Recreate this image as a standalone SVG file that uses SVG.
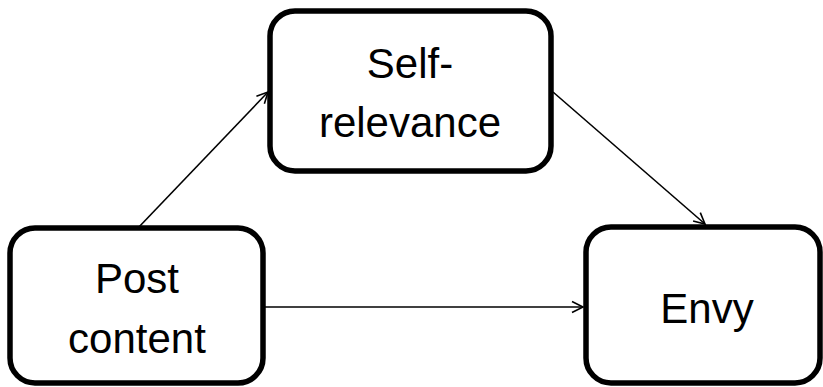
<svg xmlns="http://www.w3.org/2000/svg" width="823" height="387" viewBox="0 0 823 387">
  <style>
    .box { fill: #ffffff; stroke: #000000; stroke-width: 5.5; }
    .lbl { font-family: "Liberation Sans", Arial, sans-serif; font-size: 42px; fill: #000000; text-anchor: middle; }
    .conn { stroke: #000000; stroke-width: 1.6; fill: none; marker-end: url(#arr); }
  </style>
  <defs>
    <marker id="arr" markerUnits="userSpaceOnUse" markerWidth="16" markerHeight="16" refX="13" refY="8" orient="auto">
      <path d="M2,2.5 L13,8 L2,13.5" fill="none" stroke="#000000" stroke-width="1.6"/>
    </marker>
  </defs>
  <rect width="823" height="387" fill="#ffffff"/>
  <g id="connectors">
    <line class="conn" x1="138" y1="228" x2="268" y2="92"/>
    <line class="conn" x1="553" y1="92" x2="705" y2="224"/>
    <line class="conn" x1="265" y1="307" x2="583" y2="307"/>
  </g>
  <g id="self-relevance">
    <rect class="box" x="270" y="11" width="281" height="160" rx="25" ry="25"/>
    <text class="lbl" x="410" y="78">Self-</text>
    <text class="lbl" x="410" y="137">relevance</text>
  </g>
  <g id="post-content">
    <rect class="box" x="10" y="228" width="253" height="155" rx="25" ry="25"/>
    <text class="lbl" x="137" y="293">Post</text>
    <text class="lbl" x="137" y="353">content</text>
  </g>
  <g id="envy">
    <rect class="box" x="586" y="227" width="234" height="156" rx="25" ry="25"/>
    <text class="lbl" x="707" y="323">Envy</text>
  </g>
</svg>
